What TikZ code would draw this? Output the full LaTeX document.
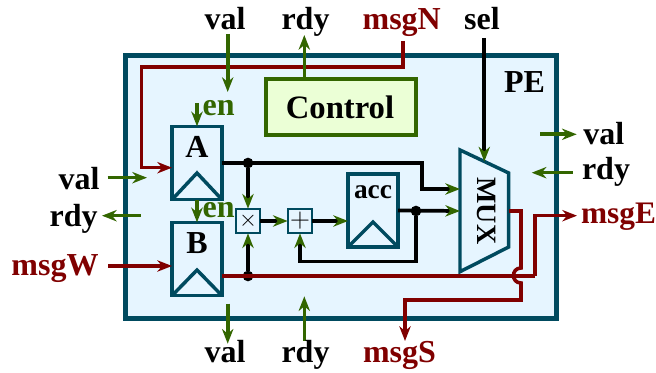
\documentclass[tikz,border=0pt]{standalone}
\usepackage{fontspec}
\setmainfont{Liberation Serif}
\usetikzlibrary{arrows.meta}
\definecolor{peblue}{HTML}{E6F5FF}
\definecolor{peedge}{HTML}{004A5F}
\definecolor{ctlgreen}{HTML}{336600}
\definecolor{ctlfill}{HTML}{EBFFD6}
\definecolor{msgred}{HTML}{800000}
\tikzset{
	lbl/.style={anchor=base, inner sep=0pt, yshift=-1pt, font=\fontsize{24}{24}\selectfont\bfseries},
	reg/.style={draw=peedge, line width=2.6pt, fill=peblue, minimum width=37.5pt, outer sep=0pt, inner sep=0pt},
	oper/.style={draw=peedge, line width=1.7pt, fill=peblue, minimum size=18.5pt, outer sep=0pt, inner sep=0pt, font=\fontsize{19}{19}\selectfont},
	dot/.style={circle, fill=black, minimum size=8pt, inner sep=0pt, outer sep=0pt},
	tip/.style={-{Stealth[length=11pt, width=8.5pt, inset=3.5pt, color=#1]}},
	ctlwire/.style={line width=2.7pt, ctlgreen, tip=ctlgreen},
	msgwire/.style={line width=2.7pt, msgred, tip=msgred},
	dpwire/.style={line width=2.8pt, black, tip=ctlgreen},
}
\begin{document}
\begin{tikzpicture}[x=0.75pt, y=-0.75pt]
	\useasboundingbox (0,0) rectangle (656,373);
	% block outline
	\node[draw=peedge, line width=4pt, fill=peblue, minimum width=323.25pt, minimum height=197.25pt, outer sep=0pt] (pe) at (340.75,187) {};
	\node[lbl] (peName) at (524.5,90.7) {PE};
	\node[draw=ctlgreen, line width=2.3pt, fill=ctlfill, minimum width=112.5pt, minimum height=42pt, outer sep=0pt] (control) at (341,107) {};
	\node[lbl, font=\fontsize{24.5}{24.5}\selectfont\bfseries] (controlName) at (340,116.7) {Control};

	% message wires
	\coordinate (nTop) at (403,41);
	\coordinate (nRight) at (403,67);
	\coordinate (nLeft) at (141.5,67);
	\coordinate (nDown) at (141.5,167.7);
	\coordinate (wIn) at (108,266);
	\coordinate (eTurn) at (535,276);
	\coordinate (eOut) at (577,215.7);
	\coordinate (muxOut) at (509,211);
	\coordinate (hopRight) at (521,211);
	\coordinate (hopTop) at (521,268);
	\coordinate (hopBot) at (521,283);
	\coordinate (sTurn) at (521,300);
	\coordinate (sLeft) at (405,300);
	\coordinate (sOut) at (405,341);

	% registers
	\node[reg, minimum height=55pt] (regA) at (197,163) {};
	\node[reg, minimum height=55pt] (regB) at (197,259) {};
	\node[reg, minimum height=54.75pt] (regAcc) at (373,210.5) {};
	\draw[draw=peedge, line width=2.6pt] (regA.south west)--(197,173)--(regA.south east);
	\draw[draw=peedge, line width=2.6pt] (regB.south west)--(197,270)--(regB.south east);
	\draw[draw=peedge, line width=2.6pt] (regAcc.south west)--(373,222)--(regAcc.south east);
	\node[lbl] (nameA) at (197,156) {A};
	\node[lbl] (nameB) at (197,252) {B};
	\node[lbl, font=\fontsize{20.5}{20.5}\selectfont\bfseries] (nameAcc) at (373,197) {acc};

	% mux
	\coordinate (muxNW) at (460,150);
	\coordinate (muxNE) at (508.7,173);
	\coordinate (muxSE) at (508.7,247);
	\coordinate (muxSW) at (460,271.7);
	\coordinate (muxInA) at (460,189);
	\coordinate (muxInB) at (460,211);
	\coordinate (muxSel) at (484.3,161.5);
	\draw[draw=peedge, line width=2.6pt, fill=peblue] (muxNW)--(muxNE)--(muxSE)--(muxSW)--cycle;
	\node[lbl, anchor=center, rotate=-90, yshift=1pt, font=\fontsize{21}{21}\selectfont\bfseries] (muxName) at (485,209.5) {MUX};

	% datapath
	\node[oper] (mult) at (248,221) {$\times$};
	\node[oper, font=\fontsize{20}{20}\selectfont] (add) at (300,221) {$+$};
	\node[dot] (dotA) at (248,163) {};
	\node[dot] (dotB) at (248,276) {};
	\node[dot] (dotAcc) at (416,211) {};
	\coordinate (jogA) at (422,163);
	\coordinate (fbTurn) at (416,261.5);
	\draw[msgwire, -] (regB.east |- dotB) -- (eTurn);
	\draw[dpwire] (regA.east) -- (jogA) |- (muxInA);
	\draw[dpwire] (regAcc.east) -- (muxInB);
	\draw[dpwire] (dotA) -- (mult.north);
	\draw[dpwire] (dotB) -- (mult.south);
	\draw[dpwire] (mult.east) -- (add.west);
	\draw[dpwire] (add.east) -- (add.east -| regAcc.west);
	\draw[dpwire] (dotAcc) -- (fbTurn) -| (add.south);

	% message wires on top
	\draw[msgwire] (nTop) -- (nRight) -- (nLeft) -- (nDown) -- (nDown -| regA.west);
	\draw[msgwire] (wIn) -- (wIn -| regB.west);
	\draw[msgwire] (eTurn) |- (eOut);
	\draw[msgwire] (muxOut) -- (hopRight) -- (hopTop) .. controls (511,268) and (511,283) .. (hopBot) -- (sTurn) -- (sLeft) -- (sOut);

	% control wires
	\coordinate (valTop) at (227.7,34);
	\coordinate (valTopEnd) at (227.7,92);
	\coordinate (rdyTop) at (304.3,79);
	\coordinate (rdyTopEnd) at (304.3,35);
	\coordinate (enA) at (197,103);
	\coordinate (valLeft) at (107.7,177.7);
	\coordinate (valLeftEnd) at (147,177.7);
	\coordinate (rdyLeft) at (140.7,215.7);
	\coordinate (rdyLeftEnd) at (102,215.7);
	\coordinate (valBot) at (227.7,303.7);
	\coordinate (valBotEnd) at (227.7,343.7);
	\coordinate (rdyBot) at (304.3,340.7);
	\coordinate (rdyBotEnd) at (304.3,296.3);
	\coordinate (valRight) at (540,134.3);
	\coordinate (valRightEnd) at (576.7,134.3);
	\coordinate (rdyRight) at (572.7,172.7);
	\coordinate (rdyRightEnd) at (531.7,172.7);
	\coordinate (selTop) at (484.3,38);
	\draw[ctlwire] (valTop) -- (valTopEnd);
	\draw[ctlwire] (rdyTop) -- (rdyTopEnd);
	\draw[ctlwire] (enA) -- (regA.north);
	\draw[ctlwire] (regA.south) -- (regB.north);
	\draw[ctlwire] (valLeft) -- (valLeftEnd);
	\draw[ctlwire] (rdyLeft) -- (rdyLeftEnd);
	\draw[ctlwire] (valBot) -- (valBotEnd);
	\draw[ctlwire] (rdyBot) -- (rdyBotEnd);
	\draw[ctlwire] (valRight) -- (valRightEnd);
	\draw[ctlwire] (rdyRight) -- (rdyRightEnd);
	\draw[dpwire] (selTop) -- (muxSel);

	% labels
	\node[lbl] (valN) at (225,28) {val};
	\node[lbl] (rdyN) at (305.5,28) {rdy};
	\node[lbl, msgred] (msgN) at (401.7,28) {msgN};
	\node[lbl] (selN) at (482,28) {sel};
	\node[lbl, ctlgreen] (enNameA) at (218.7,114) {en};
	\node[lbl, ctlgreen] (enNameB) at (218.7,216) {en};
	\node[lbl] (valW) at (79,188) {val};
	\node[lbl] (rdyW) at (73.7,225) {rdy};
	\node[lbl, msgred] (msgW) at (55,273.7) {msgW};
	\node[lbl] (valE) at (603.7,143) {val};
	\node[lbl] (rdyE) at (606,178) {rdy};
	\node[lbl, msgred, font=\fontsize{23.5}{23.5}\selectfont\bfseries] (msgE) at (618.5,222) {msgE};
	\node[lbl] (valS) at (225,361) {val};
	\node[lbl] (rdyS) at (305.5,361) {rdy};
	\node[lbl, msgred] (msgS) at (399.5,361) {msgS};
\end{tikzpicture}
\end{document}
